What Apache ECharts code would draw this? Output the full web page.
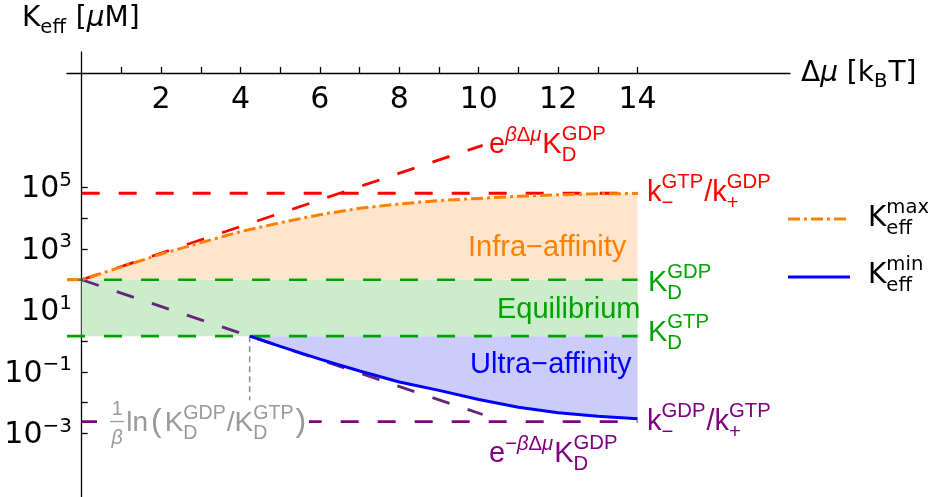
<!DOCTYPE html>
<html><head><meta charset="utf-8">
<script src="https://cdn.jsdelivr.net/npm/echarts@6/dist/echarts.min.js"></script>
<style>html,body{margin:0;padding:0;background:#fff}#c{width:928px;height:497px}</style>
</head><body><div id="c"></div>
<script>
// ---------------- data ----------------
const xTicks  = [1,2,3,4,5,6,7,8,9,10,11,12,13,14];
const xLabels = [2,4,6,8,10,12,14];
const yTicks  = [1e-3,1e-2,1e-1,1,10,100,1e3,1e4,1e5];
const yLabels = [1e-3,1e-1,10,1e3,1e5];

const kmaxX = [-0.37,0,1,2,3,4,5,6,7,8,9,10,11,12,13,14];
const kmaxY = [100,100,263,692,1622,3715,7244,13183,21380,29512,38019,44668,52481,58884,63096,64500];
const kminX = [4.23,4.5,5,6,7,8,9,10,11,12,13,14];
const kminY = [1.46,1.12,0.68,0.26,0.107,0.047,0.025,0.0126,0.0071,0.0047,0.0036,0.0030];

const kdGDP = 100;          // K_D^GDP
const kdGTP = 1.46;         // K_D^GTP
const ratioTop = 66000;     // k-^GTP / k+^GDP
const ratioBot = 0.0024;    // k-^GDP / k+^GTP
const upX = [0, 10.1], upY = [100, 2.4e6];     // e^{bΔμ} K_D^GDP
const dnX = [0, 10.1], dnY = [100, 0.0041];    // e^{-bΔμ} K_D^GDP
const crossX = 4.23, crossLow = 0.012;         // 1/b ln(KGDP/KGTP) marker
const hStart = -0.37, hStartAxis = 0, hEnd = 14;

// ---------------- helpers ----------------
const FS = "'Liberation Sans', Arial, sans-serif";
const FD = "'DejaVu Sans', sans-serif";
const RED='#ff0000', ORANGE='#ff8000', GREEN='#00a400', BLUE='#0000ff', PURPLE='#800080', PURPLE_D='#66247a', GRAY='#999999';

const pairs = (xs, ys) => xs.map((x,i)=>[x, ys[i]]);
function lineS(data, color, width, type, z){
  return {type:'line', data, showSymbol:false, symbol:'none', silent:true, z, animation:false,
          lineStyle:{color, width, type, cap:'butt'}};
}
function polyS(pointsFn, color){
  return {type:'custom', silent:true, z:1, animation:false, data:[[0,100]],
    renderItem:(params, api)=>({type:'polygon', shape:{points:pointsFn().map(p=>api.coord(p))}, style:{fill:color}})};
}

const G = [];
const cv = document.createElement('canvas').getContext('2d');
function measure(s, size, fam, it){ cv.font=(it?'italic ':'')+size+'px '+fam; return cv.measureText(s).width; }
function put(x, base, s, size, fam, color, it){
  G.push({type:'text', x, y: base-0.346*size, z:100, silent:true,
    style:{text:s, fontSize:size, fontFamily:fam, fontStyle: it?'italic':'normal', fill:color, align:'left', verticalAlign:'middle'}});
}
function pieces(list, x, base, size, fam, color){
  let cx=x;
  for(const p of list){ const o=typeof p==='string'?{t:p}:p; const sz=o.size||size;
    put(cx, base, o.t, sz, fam, color, o.it); cx+=measure(o.t, sz, fam, o.it); }
  return cx-x;
}
function label(x, base, size, fam, color, tokens){
  let cx=x; const ss=size*0.7;
  for(const tk of tokens){
    if(tk.sp!==undefined){ cx+=tk.sp; continue; }
    if(tk.t!==undefined){ cx+=pieces([tk], cx, base, size, fam, color); continue; }
    if(tk.frac){
      const wn=measure(tk.frac[0], ss, fam, false), wd=measure('β', ss, fam, true);
      const w=Math.max(wn,wd)+3;
      pieces([tk.frac[0]], cx+(w-wn)/2, base-0.59*size, ss, fam, color);
      pieces([tk.frac[1]], cx+(w-wd)/2, base+0.45*size, ss, fam, color);
      G.push({type:'line', z:100, silent:true, shape:{x1:cx, y1:base-0.41*size, x2:cx+w, y2:base-0.41*size}, style:{stroke:color, lineWidth:1.3}});
      cx+=w; continue;
    }
    let w=0;
    if(tk.sup) w=Math.max(w, pieces(tk.sup, cx, base-(tk.r!==undefined?tk.r:0.46)*size, ss, fam, color));
    if(tk.sub) w=Math.max(w, pieces(tk.sub, cx, base+(tk.d!==undefined?tk.d:0.26)*size, ss, fam, color));
    cx+=w+1;
  }
}

// ---------------- annotations ----------------
label(22, 28, 28, FD, '#000', [{t:'K'},{sub:['eff'],d:0.25},{t:' ['},{t:'μ',it:1},{t:'M]'}]);
label(801, 83, 28, FD, '#000', [{t:'Δ'},{t:'μ',it:1},{t:' [k'},{sub:['B'],d:0.2},{t:'T]'}]);

const AS = 29;
label(489, 155, AS, FS, RED, [{t:'e'},{sup:[{t:'β',it:1},'Δ',{t:'μ',it:1}],r:0.42},{t:'K'},{sup:['GDP'],sub:['D']}]);
label(647, 203, AS, FS, RED, [{t:'k'},{sup:['GTP'],sub:['−']},{t:'/'},{t:'k'},{sup:['GDP'],sub:['+']}]);
label(648, 293, AS, FS, GREEN, [{t:'K'},{sup:['GDP'],sub:['D']}]);
label(648, 343, AS, FS, GREEN, [{t:'K'},{sup:['GTP'],sub:['D']}]);
label(647, 432, AS, FS, PURPLE, [{t:'k'},{sup:['GDP'],sub:['−']},{t:'/'},{t:'k'},{sup:['GTP'],sub:['+']}]);
label(489, 464, AS, FS, PURPLE, [{t:'e'},{sup:['−',{t:'β',it:1},'Δ',{t:'μ',it:1}],r:0.42},{t:'K'},{sup:['GDP'],sub:['D']}]);

label(468, 258, AS, FS, ORANGE, [{t:'Infra−affinity'}]);
label(497, 320, AS, FS, GREEN, [{t:'Equilibrium'}]);
label(470, 375, AS, FS, BLUE, [{t:'Ultra−affinity'}]);

G.push({type:'rect', z:90, silent:true, shape:{x:97, y:413, width:212, height:18}, style:{fill:'#fff'}});
label(110, 433, 28, FS, GRAY, [{frac:['1',{t:'β',it:1}]},{sp:2},{t:'ln'},{sp:3},{t:'(',size:32},{sp:3},
  {t:'K'},{sup:['GDP'],sub:['D']},{t:'/'},{t:'K'},{sup:['GTP'],sub:['D']},{sp:1},{t:')',size:32}]);

// legend
G.push({type:'line', z:100, silent:true, shape:{x1:788,y1:219,x2:848,y2:219}, style:{stroke:ORANGE, lineWidth:3, lineDash:[12,4,3,4]}});
G.push({type:'line', z:100, silent:true, shape:{x1:788,y1:277,x2:850,y2:277}, style:{stroke:BLUE, lineWidth:3}});
label(868, 228, 28, FD, '#000', [{t:'K'},{sup:['max'],sub:['eff']}]);
label(868, 285, 28, FD, '#000', [{t:'K'},{sup:['min'],sub:['eff']}]);

// ---------------- chart ----------------
const sup = v => { const e=Math.round(Math.log10(v)); return '{b|10}{s|'+(e<0?'−'+(-e):e)+'}'; };
const option = {
  animation:false,
  grid:{left:67, top:52, width:723, height:445, outerBoundsMode:'none', containLabel:false},
  xAxis:{type:'value', min:-0.37, max:17.84, position:'top', offset:-21,
    axisLine:{onZero:false, lineStyle:{color:'#000', width:1.3}},
    axisTick:{show:true, inside:false, length:6, customValues:xTicks, lineStyle:{color:'#000', width:1.3}},
    axisLabel:{inside:true, margin:12, customValues:xLabels, fontFamily:FD, fontSize:30, color:'#000'},
    splitLine:{show:false}},
  yAxis:{type:'log', logBase:10, min:Math.pow(10,-5.075), max:Math.pow(10,9.42),
    axisLine:{onZero:true, lineStyle:{color:'#000', width:1.3}},
    axisTick:{show:true, inside:true, length:6, customValues:yTicks, lineStyle:{color:'#000', width:1.3}},
    axisLabel:{margin:-5, customValues:yLabels, formatter:sup,
      rich:{b:{fontFamily:FD, fontSize:30, lineHeight:34, verticalAlign:'bottom', color:'#000'},
            s:{fontFamily:FD, fontSize:20, lineHeight:20, verticalAlign:'top', color:'#000'}}},
    splitLine:{show:false}, minorTick:{show:false}},
  series:[
    polyS(()=>pairs(kmaxX, kmaxY).filter(p=>p[0]>=0).concat([[hEnd,kdGDP],[0,kdGDP]]), '#ffe5cc'),
    polyS(()=>[[0,kdGTP],[hEnd,kdGTP],[hEnd,kdGDP],[0,kdGDP]], '#ccedcc'),
    polyS(()=>pairs(kminX, kminY).concat([[hEnd,kdGTP],[crossX,kdGTP]]), '#ccccfa'),
    lineS([[crossX,kdGTP],[crossX,crossLow]], '#8c8c8c', 1.5, [6,4], 3),
    lineS([[hStart,kdGDP],[hEnd,kdGDP]], GREEN, 2.6, [18,19], 3),
    lineS([[hStart,kdGTP],[hEnd,kdGTP]], GREEN, 2.6, [18,19], 3),
    lineS([[hStartAxis,ratioTop],[hEnd,ratioTop]], RED, 2.8, [18,19], 3),
    lineS([[hStartAxis,ratioBot],[hEnd,ratioBot]], PURPLE, 2.8, [18,19], 3),
    lineS(pairs(upX, upY), RED, 2.8, [18,19], 4),
    lineS(pairs(dnX, dnY), PURPLE_D, 2.8, [18,19], 4),
    lineS(pairs(kmaxX, kmaxY), ORANGE, 3, [12,4,3,4], 5),
    lineS(pairs(kminX, kminY), BLUE, 3, 'solid', 6)
  ],
  graphic:{elements:G}
};
const chart = echarts.init(document.getElementById('c'), null, {renderer:'canvas'});
chart.setOption(option);
</script></body></html>
